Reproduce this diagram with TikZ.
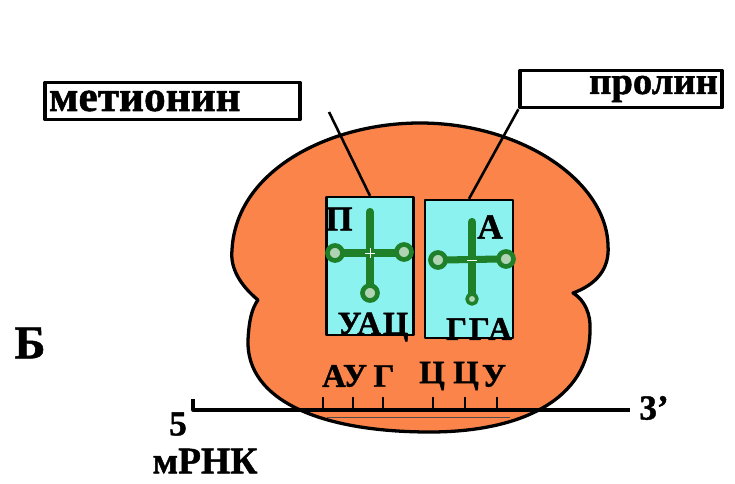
\documentclass[tikz,border=0pt]{standalone}
\usepackage{fontspec}
\setmainfont{Liberation Serif}[BoldFeatures={FakeBold=1.2}]
\usetikzlibrary{positioning}

\definecolor{ribo}{RGB}{250,132,74}
\definecolor{site}{RGB}{140,242,240}
\definecolor{trna}{RGB}{30,128,40}

\begin{document}
\begin{tikzpicture}[x=0.03cm, y=-0.03cm, line join=round,
      every node/.append style={inner sep=0pt, font=\bfseries}]
    \tikzstyle{aminobox} = [draw, line width=2.8pt, fill=white, minimum height=1.12cm, inner xsep=0.12cm]
    \tikzstyle{sitebox} = [draw, line width=2pt, fill=site, minimum width=2.6cm, minimum height=4.14cm]
    \tikzstyle{word} = [font=\fontsize{28}{28}\selectfont\bfseries]
    \tikzstyle{arm} = [draw=trna, line width=7pt, line cap=round]
    \tikzstyle{knob} = [fill=trna!35!white, draw=trna, line width=4pt]
    \useasboundingbox (0,0) rectangle (735,484);

    % ribosome: large and small subunit
    \filldraw[fill=ribo, line width=2.8pt] (258,300)
      .. controls (240,285) and (230,268) .. (232,250)
      .. controls (236,170) and (330,123) .. (420,123)
      .. controls (520,123) and (606,180) .. (608,245)
      .. controls (610,270) and (595,285) .. (573,293)
      .. controls (585,300) and (591,315) .. (590,330)
      .. controls (590,400) and (520,432) .. (430,432)
      .. controls (320,432) and (246,400) .. (248,340)
      .. controls (249,320) and (252,308) .. (258,300) -- cycle;

    % P and A sites
    \node[sitebox] (P) at (370,266) {};
    \node[sitebox, minimum width=2.64cm] (A) at (469,269) {};

    % tRNA in P site
    \draw[arm] (370,212) -- (370,285);
    \draw[arm, line width=6pt] (342,253) -- (398,253);
    \filldraw[knob] (335,253) circle [radius=7.5];
    \filldraw[knob] (404,252) circle [radius=7.5];
    \filldraw[knob] (370,293) circle [radius=7.5];
    \draw[white, line width=0.8pt] (365,253) -- (375,253) (370,248) -- (370,258);

    % tRNA in A site
    \draw[arm] (472,222) -- (472,294);
    \draw[arm, line width=6pt] (444,260) -- (500,259);
    \filldraw[knob] (438,260) circle [radius=7.5];
    \filldraw[knob] (506,259) circle [radius=7.5];
    \filldraw[knob, line width=3pt] (472,299) circle [radius=5];
    \draw[white, line width=0.8pt] (467,260) -- (477,260);

    \node[word, font=\fontsize{30}{30}\selectfont\bfseries] (Pname) at (339,219) {П};
    \node[word, font=\fontsize{30}{30}\selectfont\bfseries] (Aname) at (490,227) {А};
    \node[word, font=\fontsize{28}{28}\selectfont\bfseries\addfontfeature{LetterSpace=6}] (Panti) at (373,327) {УАЦ};
    \node[word, font=\fontsize{28}{28}\selectfont\bfseries\addfontfeature{LetterSpace=6}] (Aanti) at (479,329) {ГГА};

    % amino acids
    \node[aminobox, text width=7.41cm, align=left, font=\fontsize{37}{37}\selectfont\bfseries] (met) at (172.5,101) {метионин};
    \node[aminobox, text width=5.82cm, align=right, font=\fontsize{33}{33}\selectfont\bfseries] (pro) at (621,89) {пролин};
    \coordinate (metend) at (329,112);
    \draw[line width=2.2pt] (metend) -- (P.north);
    \draw[line width=2.2pt] (pro.south west) -- (A.north);

    % mRNA
    \draw[line width=0.8pt, black!70] (327,417) -- (510,417);
    \coordinate (hook) at (193,399);
    \coordinate (m5) at (193,410);
    \coordinate (m3) at (630,410);
    \draw[line width=2.6pt] (hook) -- (m5) -- (m3);
    \foreach \x in {323,353,383,433,465,497}
      \draw[line width=2.2pt] (\x,397) -- (\x,410);
    \foreach \x/\c [count=\i] in {334/А,355/У,384/Г,432/Ц,466/Ц,494/У}
      \node[word] (codon\i) at (\x,376) {\c};

    \node[word, font=\fontsize{30}{30}\selectfont\bfseries] (five) at (178,424) {5};
    \node[word, font=\fontsize{30}{30}\selectfont\bfseries] (three) at (654,408) {3'};
    \node[word, font=\fontsize{32}{32}\selectfont\bfseries] (mrna) at (205,461) {мРНК};
    \node[word, font=\fontsize{40}{40}\selectfont\bfseries] (B) at (30,343) {Б};
\end{tikzpicture}
\end{document}
